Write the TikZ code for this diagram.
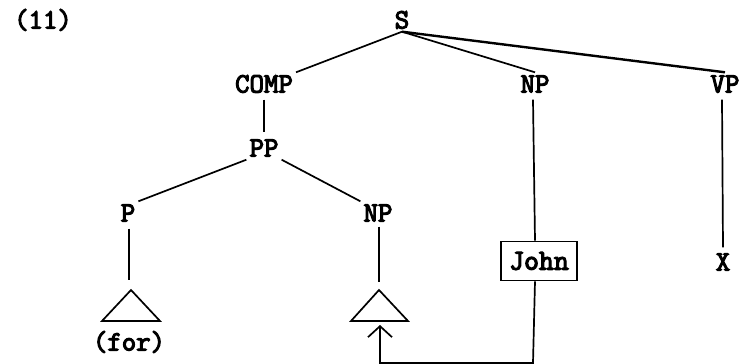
\documentclass[tikz,border=0pt]{standalone}
\usepackage{fontspec}
\newfontfamily\heavytt{Latin Modern Mono}[FakeBold=4]
\usetikzlibrary{arrows.meta,calc}
\begin{document}
\begin{tikzpicture}[x=1pt,y=-1pt,
  lab/.style={font=\fontsize{28}{32}\heavytt, inner sep=3pt, text height=17pt, text depth=0pt},
  edge/.style={line width=1.7pt},
  vedge/.style={line width=1.7pt, shorten >=4pt, shorten <=4pt},
  jbox/.style={draw, line width=1.7pt, font=\fontsize{29}{32}\heavytt, minimum width=76pt, minimum height=39pt, inner sep=0pt},
  tri/.style={line width=1.7pt, line join=miter}
]
\useasboundingbox (0,0) rectangle (747,364);
\node[lab] (n11) at (43,20) {(11)};
\node[lab] (S) at (402,20) {S};
\node[lab] (COMP) at (264,84) {COMP};
\node[lab] (NPa) at (535,84) {NP};
\node[lab] (VP) at (725,84) {VP};
\node[lab] (PP) at (264,148) {PP};
\node[lab] (P) at (128,213) {P};
\node[lab] (NPb) at (378,213) {NP};
\node[jbox] (John) at (539,261) {John};
\node[lab] (X) at (723,262) {X};
\node[lab] (for) at (129,342) {(for)};
% triangle apexes
\coordinate (t1) at (131,290);
\coordinate (t2) at (379,290);
\coordinate (tip) at (380,325);
\coordinate (c1) at (533,363);
\coordinate (c2) at (380,363);
% edges from S
\draw[edge] (S.south) -- (COMP.north east);
\draw[edge] (S.south) -- (NPa.north);
\draw[edge, line width=2.4pt] (S.south) -- (VP.north);
% vertical edges
\draw[vedge] (COMP.south) -- (PP.north);
\draw[edge] ($(NPa.south)+(-2,4)$) -- (NPa.south |- John.north);
\draw[edge] ($(VP.south)+(-3,4)$) -- ($(X.north)+(0,-3)$);
% PP daughters
\draw[edge] (PP.south west) -- (P.north east);
\draw[edge] (PP.south east) -- (NPb.north west);
\draw[edge] ($(P.south)+(1,4)$) -- ($(t1)+(-2,-10)$);
\draw[edge] ($(NPb.south)+(1,2)$) -- ($(t2)+(0,-8)$);
% triangles
\draw[tri] (t1) -- (160,321) -- (102,321) -- cycle;
\draw[tri] (t2) -- (408,321) -- (351,321) -- cycle;
% movement arrow
\draw[edge, -{Straight Barb[length=11pt,width=24pt]}] (NPa.south |- John.south) -- (c1) -- (c2) -- (tip);
\end{tikzpicture}
\end{document}
